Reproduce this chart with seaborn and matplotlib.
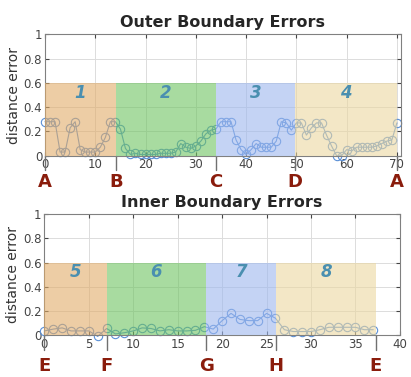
import numpy as np
import pandas as pd
import matplotlib
matplotlib.use("Agg")
import matplotlib.pyplot as plt
import matplotlib.transforms as mtransforms
import seaborn as sns

# outer boundary, one sample per contour step (0..70)
outer_err = [0.28, 0.28, 0.28, 0.03, 0.03, 0.23, 0.28, 0.05, 0.03, 0.03,
             0.03, 0.07, 0.15, 0.28, 0.28,
             0.22, 0.06, 0.01, 0.02, 0.01, 0.01, 0.01, 0.01, 0.02, 0.02,
             0.02, 0.03, 0.10, 0.07, 0.06, 0.08, 0.12, 0.18, 0.21,
             0.22, 0.28, 0.28, 0.28, 0.13, 0.05, 0.01, 0.05, 0.10, 0.07,
             0.07, 0.07, 0.12, 0.28, 0.27, 0.21,
             0.27, 0.27, 0.17, 0.23, 0.27, 0.27, 0.17, 0.08, 0.00, 0.00,
             0.05, 0.04, 0.07, 0.07, 0.07, 0.07, 0.08, 0.10, 0.12, 0.13, 0.27]
outer_bounds = [0, 14.1, 34.0, 49.8, 70.0]
outer_letters = ["A", "B", "C", "D", "A"]
outer_regions = ["1", "2", "3", "4"]

# inner boundary (0..37)
inner_err = [0.035, 0.05, 0.06, 0.035, 0.035, 0.035, -0.01, 0.055, 0.01, 0.02,
             0.035, 0.06, 0.055, 0.035, 0.045, 0.035, 0.035, 0.04, 0.07, 0.05,
             0.12, 0.18, 0.13, 0.12, 0.12, 0.18, 0.14, 0.045, 0.03, 0.03,
             0.03, 0.045, 0.065, 0.065, 0.065, 0.065, 0.045, 0.045]
inner_bounds = [0, 7.0, 18.2, 26.1, 37.3]
inner_letters = ["E", "F", "G", "H", "E"]
inner_regions = ["5", "6", "7", "8"]

region_colors = ["#E1AC69", "#6EC361", "#9DB7EE", "#EBD7A0"]
line_color = "#5a8fd6"
label_color = "#4a8fb0"
letter_color = "#8a1c0c"

sns.set_style("whitegrid")
plt.rcParams["font.family"] = ["DejaVu Sans"]

fig = plt.figure(figsize=(4.11, 3.77), dpi=100)
ax_top = fig.add_axes([0.1095, 0.587, 0.866, 0.322])
ax_bot = fig.add_axes([0.108, 0.111, 0.865, 0.321])


def draw_panel(ax, err, bounds, letters, regions, title, xmax, xticks,
               letter_y):
    df = pd.DataFrame({"idx": np.arange(len(err)), "err": err})
    sns.lineplot(data=df, x="idx", y="err", ax=ax, color=line_color,
                 linewidth=0.8, marker="o", markersize=6,
                 markerfacecolor="none", markeredgecolor=line_color,
                 markeredgewidth=0.8, clip_on=False, zorder=2)
    for i, lab in enumerate(regions):
        ax.axvspan(bounds[i], bounds[i + 1], ymin=0, ymax=0.6,
                   color=region_colors[i], alpha=0.6, lw=0, zorder=3)
        ax.text((bounds[i] + bounds[i + 1]) / 2, 0.52, lab, ha="center",
                va="center", color=label_color, fontsize=12,
                fontweight="bold", fontstyle="italic", zorder=4)
    ax.set_xlim(0, xmax)
    ax.set_ylim(0, 1)
    ax.set_xticks(xticks)
    ax.set_yticks([0, 0.2, 0.4, 0.6, 0.8, 1])
    ax.set_yticklabels(["0", "0.2", "0.4", "0.6", "0.8", "1"])
    ax.set_xlabel("")
    ax.set_ylabel("distance error", fontsize=10, color="#333333", labelpad=2)
    ax.set_title(title, fontsize=11.5, fontweight="bold", pad=5)
    ax.grid(True, color="#dcdcdc", linewidth=0.7)
    ax.tick_params(labelsize=8.5, colors="#444444", direction="in",
                   length=3, pad=2, top=True, right=True, left=True,
                   bottom=True)
    for sp in ax.spines.values():
        sp.set_color("#808080")
        sp.set_linewidth(0.8)
    trans = mtransforms.blended_transform_factory(ax.transData, ax.transAxes)
    for b, letter in zip(bounds, letters):
        ax.plot([b, b], [0, -0.12], transform=trans, color="#707070",
                lw=1.0, clip_on=False, zorder=1)
        ax.text(b, letter_y, letter, transform=trans, ha="center",
                va="center", color=letter_color, fontsize=13,
                fontweight="bold")


draw_panel(ax_top, outer_err, outer_bounds, outer_letters, outer_regions,
           "Outer Boundary Errors", 70.8, range(0, 71, 10), -0.215)
draw_panel(ax_bot, inner_err, inner_bounds, inner_letters, inner_regions,
           "Inner Boundary Errors", 40, range(0, 41, 5), -0.255)

fig.savefig("out.png", dpi=100)
